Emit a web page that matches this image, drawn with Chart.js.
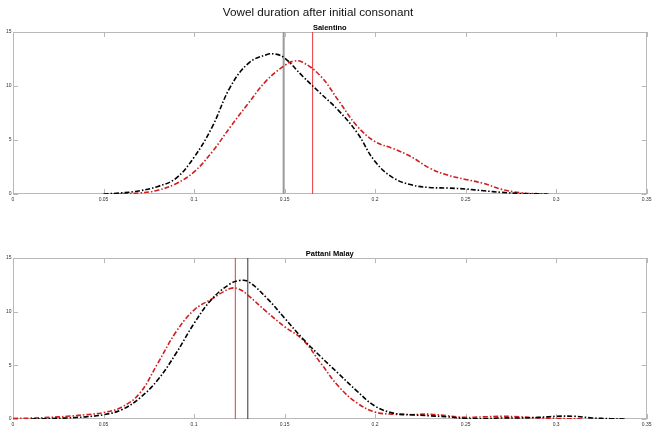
<!DOCTYPE html>
<html>
<head>
<meta charset="utf-8">
<script src="https://cdn.jsdelivr.net/npm/chart.js@4.4.0/dist/chart.umd.min.js"></script>
<style>
body { margin: 0; background: #fff; width: 654px; height: 428px; position: relative; overflow: hidden; }
#title { position: absolute; left: 0; top: 5px; width: 636px; text-align: center; line-height: 14px;
         font-family: "Liberation Sans", Arial, sans-serif; font-size: 11.7px; color: #111; z-index: 2; }
canvas { position: absolute; left: 0; }
#topChart { top: 0; }
#bottomChart { top: 226px; }
</style>
</head>
<body>
<div id="title">Vowel duration after initial consonant</div>
<canvas id="topChart" width="654" height="203"></canvas>
<canvas id="bottomChart" width="654" height="202"></canvas>
<script>
// axis ticks
var xTicks = [0, 0.05, 0.1, 0.15, 0.2, 0.25, 0.3, 0.35];
var yTicks = [0, 5, 10, 15];

// Salentino densities
var salBlackX = [0.05, 0.06, 0.07, 0.08, 0.09, 0.10, 0.11, 0.12, 0.13, 0.14, 0.145, 0.15, 0.16, 0.17, 0.18, 0.19,
    0.20, 0.21, 0.22, 0.23, 0.24, 0.25, 0.26, 0.27, 0.28, 0.29, 0.295];
var salBlackY = [0, 0.1, 0.3, 0.7, 1.45, 3.4, 6.2, 9.9, 12.1, 12.9, 12.95, 12.6, 10.9, 9.3, 7.7, 5.7,
    3.0, 1.5, 0.85, 0.6, 0.55, 0.46, 0.3, 0.15, 0.05, 0.01, 0];
var salRedX = [0.055, 0.06, 0.07, 0.08, 0.09, 0.10, 0.11, 0.12, 0.13, 0.14, 0.15, 0.155, 0.16, 0.17, 0.18, 0.19,
    0.20, 0.21, 0.22, 0.23, 0.24, 0.25, 0.26, 0.27, 0.28, 0.29, 0.296];
var salRedY = [0, 0.03, 0.1, 0.35, 0.95, 2.05, 3.9, 6.2, 8.4, 10.5, 11.9, 12.3, 12.2, 10.9, 8.6, 6.3,
    4.85, 4.2, 3.45, 2.4, 1.75, 1.35, 0.98, 0.43, 0.12, 0.02, 0];
var salMeanBlack = 0.1495;
var salMeanRed = 0.1655;

// Pattani Malay densities
var patBlackX = [0.01, 0.02, 0.03, 0.04, 0.05, 0.06, 0.07, 0.08, 0.09, 0.10, 0.11, 0.12, 0.125, 0.13, 0.14, 0.15, 0.16,
    0.17, 0.18, 0.19, 0.20, 0.21, 0.22, 0.23, 0.24, 0.25, 0.26, 0.27, 0.28, 0.29, 0.30, 0.31, 0.32, 0.33, 0.338];
var patBlackY = [0, 0.03, 0.1, 0.2, 0.4, 0.86, 1.95, 3.65, 6.1, 8.9, 11.2, 12.6, 12.9, 12.8, 11.3, 9.4, 7.5,
    5.8, 4.2, 2.6, 1.2, 0.55, 0.4, 0.3, 0.2, 0.05, 0.03, 0.1, 0.1, 0.15, 0.25, 0.25, 0.1, 0.03, 0];
var patRedX = [0, 0.01, 0.02, 0.03, 0.04, 0.05, 0.06, 0.07, 0.08, 0.09, 0.10, 0.11, 0.12, 0.125, 0.13, 0.14, 0.15, 0.16,
    0.17, 0.18, 0.19, 0.20, 0.21, 0.22, 0.23, 0.24, 0.25, 0.26, 0.27, 0.28, 0.29, 0.30, 0.315];
var patRedY = [0.05, 0.08, 0.15, 0.25, 0.4, 0.6, 1.1, 2.4, 5.2, 8.1, 10.15, 11.2, 12.15, 12.1, 11.5, 10, 8.6, 7.4,
    5.2, 3.0, 1.5, 0.65, 0.45, 0.4, 0.45, 0.3, 0.15, 0.2, 0.25, 0.2, 0.1, 0.05, 0];
var patMeanBlack = 0.1297;
var patMeanRed = 0.1228;

var FONT = '"Liberation Sans", Arial, sans-serif';
var RED = 'rgb(208, 30, 30)';
var DASH = [5, 2, 1.5, 2];

function pts(xs, ys) {
    return xs.map(function (x, i) { return { x: x, y: ys[i] }; });
}

// box round the axes and little inward ticks on all four sides
var boxPlugin = {
    id: 'box',
    beforeDatasetsDraw: function (chart) {
        var ctx = chart.ctx, a = chart.chartArea, sx = chart.scales.x, sy = chart.scales.y;
        ctx.save();
        ctx.strokeStyle = '#b8b8b8';
        ctx.lineWidth = 1;
        ctx.strokeRect(Math.round(a.left) + 0.5, Math.round(a.top) + 0.5,
            Math.round(a.right - a.left) - 1, Math.round(a.bottom - a.top) - 1);
        ctx.beginPath();
        xTicks.forEach(function (v) {
            var px = Math.round(sx.getPixelForValue(v)) + 0.5;
            ctx.moveTo(px, a.top); ctx.lineTo(px, a.top + 5);
            ctx.moveTo(px, a.bottom); ctx.lineTo(px, a.bottom - 5);
        });
        yTicks.forEach(function (v) {
            var py = Math.round(sy.getPixelForValue(v)) + 0.5;
            ctx.moveTo(a.left, py); ctx.lineTo(a.left + 5, py);
            ctx.moveTo(a.right, py); ctx.lineTo(a.right - 5, py);
        });
        ctx.stroke();
        ctx.restore();
    }
};

function makeChart(id, name, bx, by, rx, ry, meanBlack, meanRed, meanBlackColor, meanBlackWidth) {
    var ctx = document.getElementById(id).getContext('2d');
    return new Chart(ctx, {
        type: 'line',
        data: {
            datasets: [{
                data: pts(bx, by),
                borderColor: '#000',
                borderWidth: 1.6,
                borderDash: DASH,
                pointRadius: 0,
                tension: 0.4,
                order: 1
            }, {
                data: pts(rx, ry),
                borderColor: RED,
                borderWidth: 1.6,
                borderDash: DASH,
                pointRadius: 0,
                tension: 0.4,
                order: 2
            }, {
                data: [{ x: meanBlack, y: 0 }, { x: meanBlack, y: 15 }],
                borderColor: meanBlackColor,
                borderWidth: meanBlackWidth,
                pointRadius: 0,
                order: 3
            }, {
                data: [{ x: meanRed, y: 0 }, { x: meanRed, y: 15 }],
                borderColor: 'rgb(228, 60, 60)',
                borderWidth: 1,
                pointRadius: 0,
                order: 3
            }]
        },
        options: {
            responsive: false,
            animation: false,
            layout: { padding: { top: 23, right: 6, left: 0, bottom: 0 } },
            plugins: {
                legend: { display: false },
                tooltip: { enabled: false },
                subtitle: {
                    display: true,
                    text: name,
                    fullSize: false,
                    color: '#000',
                    font: { family: FONT, size: 7.5, weight: 'bold', lineHeight: 1 },
                    padding: { top: 1, bottom: 0.5 }
                }
            },
            scales: {
                x: {
                    type: 'linear',
                    min: 0,
                    max: 0.35,
                    afterBuildTicks: function (s) { s.ticks = xTicks.map(function (v) { return { value: v }; }); },
                    afterFit: function (s) { s.height = 9; },
                    grid: { display: false, drawTicks: false },
                    border: { display: false },
                    ticks: {
                        autoSkip: false, maxRotation: 0, padding: 2.5, color: '#333',
                        font: { family: FONT, size: 5 },
                        callback: function (v) { return String(+v.toFixed(2)); }
                    }
                },
                y: {
                    min: 0,
                    max: 15,
                    afterBuildTicks: function (s) { s.ticks = yTicks.map(function (v) { return { value: v }; }); },
                    afterFit: function (s) { s.width = 13; },
                    grid: { display: false, drawTicks: false },
                    border: { display: false },
                    ticks: { padding: 1.5, color: '#333', font: { family: FONT, size: 5 } }
                }
            }
        },
        plugins: [boxPlugin]
    });
}

makeChart('topChart', 'Salentino', salBlackX, salBlackY, salRedX, salRedY, salMeanBlack, salMeanRed, '#9a9a9a', 2);
makeChart('bottomChart', 'Pattani Malay', patBlackX, patBlackY, patRedX, patRedY, patMeanBlack, patMeanRed, '#333', 1);
</script>
</body>
</html>
